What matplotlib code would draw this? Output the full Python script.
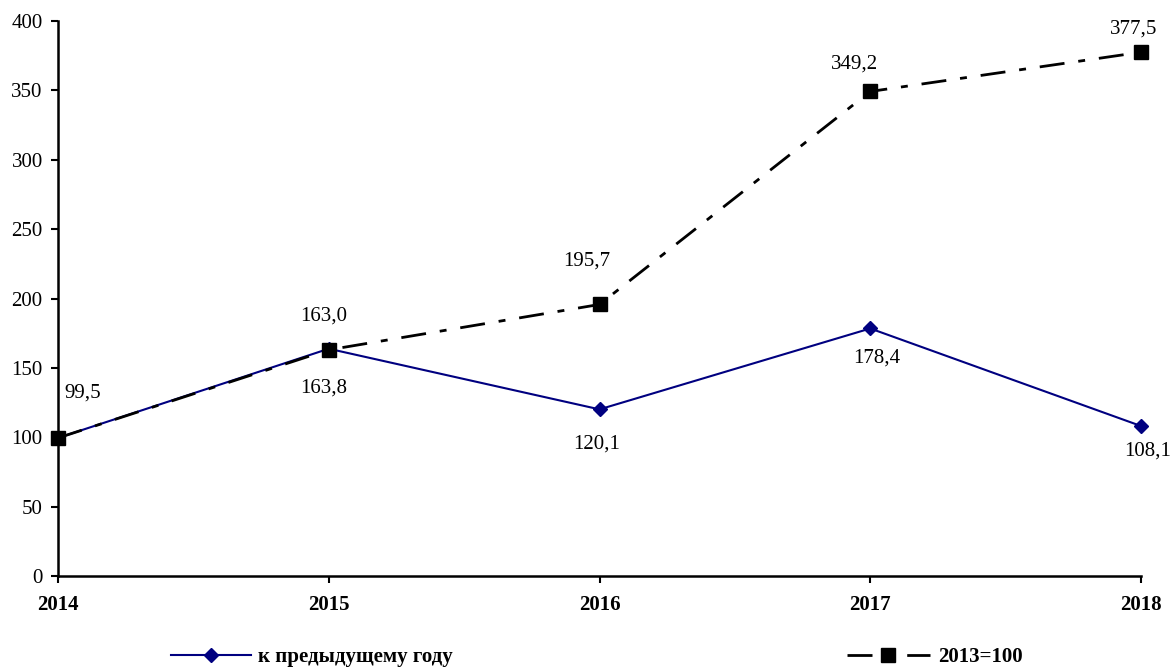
#!/usr/bin/env python3
"""Индексы: к предыдущему году и 2013=100"""

import matplotlib
matplotlib.use('Agg')
import matplotlib.pyplot as plt
from matplotlib.lines import Line2D

years = ['2014', '2015', '2016', '2017', '2018']
prev_year = [99.5, 163.8, 120.1, 178.4, 108.1]
base_2013 = [99.5, 163.0, 195.7, 349.2, 377.5]
prev_labels = ['', '163,8', '120,1', '178,4', '108,1']
base_labels = ['99,5', '163,0', '195,7', '349,2', '377,5']

plt.rcParams['font.family'] = ['Liberation Serif', 'DejaVu Serif']
FS = 15

fig = plt.figure(figsize=(11.76, 6.71), dpi=100)
ax = fig.add_axes([58 / 1176, 1 - 576 / 671, (1141 - 58) / 1176, (576 - 21) / 671])

x = list(range(len(years)))
dashdot = (0, (9, 5, 2.5, 5))

ax.plot(x, prev_year, color='#000080', lw=1.5, marker='D', ms=7,
        clip_on=False, zorder=3)
ax.plot(x, base_2013, color='black', lw=2, linestyle=dashdot, marker='s',
        ms=10, clip_on=False, zorder=4)

# подписи значений (смещения в пунктах)
base_offsets = [(18, 32), (-4, 24), (-9, 31), (-11, 20), (-5, 17)]
prev_offsets = [(0, 0), (-4, -28), (-2, -25), (5, -21), (5, -18)]
for i in range(len(years)):
    ax.annotate(base_labels[i], (x[i], base_2013[i]), xytext=base_offsets[i],
                textcoords='offset points', ha='center', va='center',
                fontsize=FS, annotation_clip=False)
    if prev_labels[i]:
        ax.annotate(prev_labels[i], (x[i], prev_year[i]), xytext=prev_offsets[i],
                    textcoords='offset points', ha='center', va='center',
                    fontsize=FS, annotation_clip=False)

ax.set_xlim(0, 4)
ax.set_ylim(0, 400)
ax.set_yticks(range(0, 401, 50))
ax.set_xticks(x)
ax.set_xticklabels(years, fontweight='bold')
ax.tick_params(axis='both', labelsize=FS, width=1.5, length=5, direction='out')
ax.tick_params(axis='x', pad=9)
ax.tick_params(axis='y', pad=6)
for side in ['top', 'right']:
    ax.spines[side].set_visible(False)
for side in ['left', 'bottom']:
    ax.spines[side].set_linewidth(1.8)

h1 = Line2D([], [], color='#000080', lw=1.5, marker='D', ms=7)
h2 = Line2D([], [], color='black', lw=2, linestyle=dashdot, marker='s', ms=10)
leg1 = fig.legend([h1], ['к предыдущему году'], loc='center left',
                  bbox_to_anchor=(152 / 1176, 1 - 657 / 671), frameon=False,
                  handlelength=3.85, handletextpad=0.35,
                  prop={'weight': 'bold', 'size': FS})
leg2 = fig.legend([h2], ['2013=100'], loc='center left',
                  bbox_to_anchor=(828 / 1176, 1 - 657 / 671), frameon=False,
                  handlelength=4.0, handletextpad=0.4,
                  prop={'weight': 'bold', 'size': FS})

fig.savefig('out.png', dpi=100)
